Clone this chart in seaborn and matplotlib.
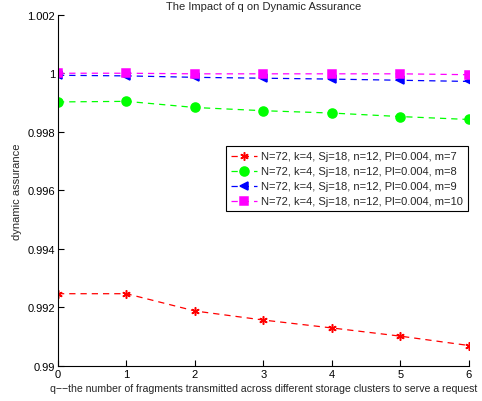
import matplotlib
matplotlib.use("Agg")
import matplotlib.pyplot as plt
import matplotlib.ticker as mticker
import seaborn as sns
import pandas as pd

q = [0, 1, 2, 3, 4, 5, 6]
m7 = [0.99247, 0.99247, 0.99188, 0.99157, 0.99130, 0.99102, 0.99070]
m8 = [0.99902, 0.99904, 0.99883, 0.99872, 0.99864, 0.99852, 0.99842]
m9 = [0.99993, 0.99991, 0.99986, 0.99983, 0.99980, 0.99976, 0.99972]
m10 = [1.00000, 1.00000, 0.99998, 0.99998, 0.99998, 0.99998, 0.99995]

base = "N=72, k=4, Sj=18, n=12, Pl=0.004, "
labels = [base + "m=7", base + "m=8", base + "m=9", base + "m=10"]
series = [m7, m8, m9, m10]

frames = []
for lab, vals in zip(labels, series):
    frames.append(pd.DataFrame({"q": q, "value": vals, "series": lab}))
df = pd.concat(frames, ignore_index=True)

sns.set_style("ticks")
plt.rcParams["font.family"] = ["Liberation Sans", "DejaVu Sans"]

fig = plt.figure(figsize=(4.82, 4.02), dpi=100)
ax = fig.add_axes([0.1203, 0.087, 0.973 - 0.1203, 0.961 - 0.087])

colors = ["#ff0000", "#00ff00", "#0000ff", "#ff00ff"]
markers = [(6, 2, 0), "o", "<", "s"]
sizes = [6, 6.5, 6, 5.5]

for lab, c, mk, ms in zip(labels, colors, markers, sizes):
    sns.lineplot(data=df[df["series"] == lab], x="q", y="value", ax=ax,
                 color=c, marker=mk, markersize=ms, linestyle=(0, (5, 4)),
                 linewidth=0.9, markeredgecolor=c, markerfacecolor=c,
                 markeredgewidth=1.1, legend=False)

ax.set_xlim(0, 6)
ax.set_ylim(0.99, 1.002)
ax.set_xticks(q)
ax.set_yticks([0.99, 0.992, 0.994, 0.996, 0.998, 1.0, 1.002])
ax.yaxis.set_major_formatter(mticker.FormatStrFormatter("%g"))
ax.tick_params(direction="in", length=4, width=0.8, labelsize=8, pad=2,
               colors="black")
for side in ["top", "right"]:
    ax.spines[side].set_visible(False)
for side in ["left", "bottom"]:
    ax.spines[side].set_linewidth(0.8)
    ax.spines[side].set_color("black")

ax.set_xlabel("q\u2212\u2212the number of fragments transmitted across different storage clusters to serve a request",
              fontsize=7.6, labelpad=3)
ax.set_ylabel("dynamic assurance", fontsize=8, labelpad=4)
ax.set_title("The Impact of q on Dynamic Assurance", fontsize=8, pad=4)

leg = ax.legend(ax.get_lines()[:4], labels, loc="upper left",
                bbox_to_anchor=(0.408, 0.625), fontsize=8,
                frameon=True, fancybox=False, framealpha=1, edgecolor="black",
                borderpad=0.45, labelspacing=0.45, handlelength=2.4,
                handletextpad=0.3, borderaxespad=0)
leg.get_frame().set_linewidth(0.8)

fig.savefig("out.png", dpi=100)
